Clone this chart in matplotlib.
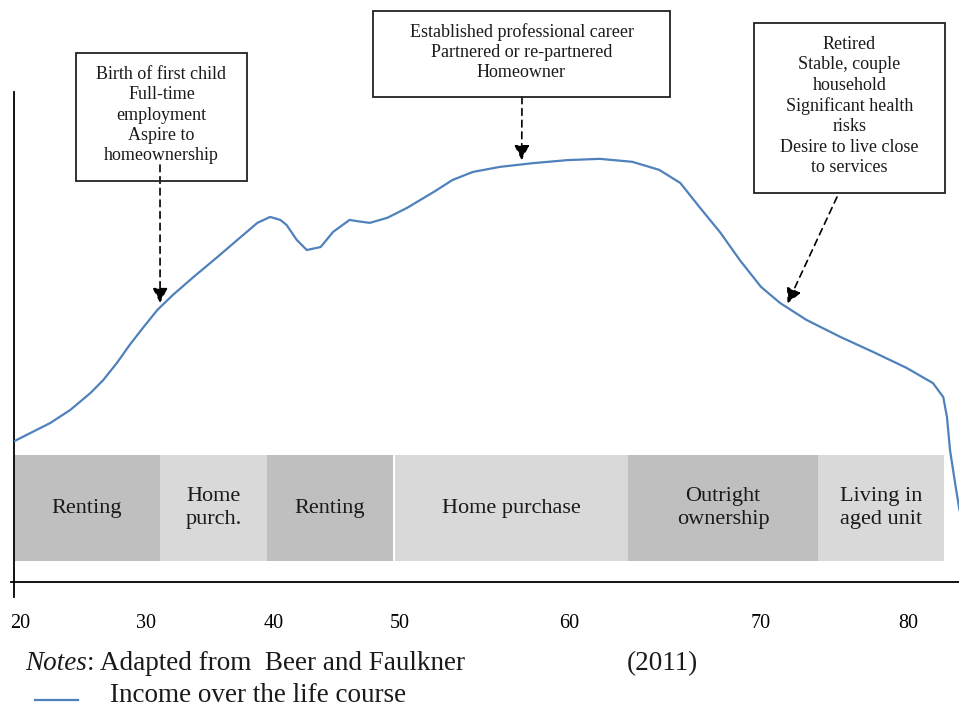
import numpy as np
import matplotlib
matplotlib.use('Agg')
import matplotlib.pyplot as plt
from matplotlib.patches import Rectangle

plt.rcParams['font.family'] = ['Liberation Serif', 'DejaVu Serif']

# income over the life course (index, peak ~ 100)
ages = [19.6, 20.8, 22.4, 24.0, 25.6, 26.6, 27.7, 28.7, 29.8, 30.9, 32.1,
        33.7, 35.6, 37.3, 38.7, 39.7, 40.5, 41.0, 41.8, 42.6, 43.7, 44.7,
        46.0, 46.6, 47.6, 49.0, 50.4, 52.0, 53.1, 54.3, 55.9, 57.9, 59.9,
        61.6, 63.3, 64.7, 65.8, 66.8, 67.9, 68.9, 70.0, 71.3, 73.1, 75.4,
        77.6, 79.9, 81.7, 82.4, 82.65, 82.86, 83.2, 83.5]
income = [33.3, 35.1, 37.5, 40.6, 44.6, 47.6, 51.7, 55.9, 60.1, 64.2, 67.7,
          71.9, 76.7, 81.1, 84.7, 86.1, 85.4, 84.2, 80.7, 78.3, 79.0, 82.6,
          85.4, 85.1, 84.7, 85.9, 88.2, 92.0, 94.8, 96.7, 97.9, 98.8, 99.5,
          99.8, 99.1, 97.2, 94.1, 88.4, 82.3, 75.9, 69.6, 65.8, 61.8, 57.8,
          54.3, 50.5, 46.9, 43.6, 38.9, 31.1, 23.4, 17.0]

# housing phases
phase_labels = ['Renting', 'Home\npurch.', 'Renting', 'Home purchase',
                'Outright\nownership', 'Living in\naged unit']
phase_start = [19.5, 31.1, 39.45, 49.6, 63.07, 73.88]
phase_end = [31.1, 39.45, 49.45, 63.07, 73.88, 82.45]

tick_ages = [20, 30, 40, 50, 60, 70, 80]
tick_labels = ['20', '30', '40', '50', '60', '70', '80']

# life events pointed at the curve
events = ['Birth of first child\nFull-time\nemployment\nAspire to\nhomeownership',
          'Established professional career\nPartnered or re-partnered\nHomeowner',
          'Retired\nStable, couple\nhousehold\nSignificant health\nrisks\nDesire to live close\nto services']
event_ages = [31.1, 57.2, 71.8]

# the age axis in the diagram is not evenly spaced -> piecewise scale
knot_ages = [0] + tick_ages + [100]
knot_px = [20 - 20 * 12.6, 20, 146, 274, 400, 569, 761, 908, 908 + 20 * 14.7]


def fwd(a):
    return np.interp(a, knot_ages, knot_px)


def inv(p):
    return np.interp(p, knot_px, knot_ages)


W, H = 959, 708
PXU = 4.24  # pixels per income unit
fig = plt.figure(figsize=(W / 100, H / 100), dpi=100)


def fx(x, y):
    # pixel (from top-left) -> figure fraction
    return (x / W, 1 - y / H)


ax = fig.add_axes([14 / W, (H - 582) / H, 945 / W, 490 / H])
ax.set_xscale('function', functions=(fwd, inv))
ax.set_xlim(float(inv(14)), float(inv(959)))
ax.set_ylim(0, 490 / PXU)

# phase bars
shades = ['#bfbfbf', '#d9d9d9']
for i, (lab, a0, a1) in enumerate(zip(phase_labels, phase_start, phase_end)):
    ax.bar(a0, 106 / PXU, width=a1 - a0, bottom=21 / PXU, align='edge',
           color=shades[i % 2], edgecolor='none', zorder=1)
    xc = float(inv((fwd(a0) + fwd(a1)) / 2))
    ax.text(xc, 74 / PXU, lab, ha='center', va='center', fontsize=16,
            linespacing=1.3, color='#1a1a1a', zorder=2)

ax.plot(ages, income, color='#4f81bd', lw=1.6, zorder=3)

for s in ['top', 'right']:
    ax.spines[s].set_visible(False)
for s in ['left', 'bottom']:
    ax.spines[s].set_linewidth(1.3)
    ax.spines[s].set_clip_on(False)
ax.spines['left'].set_bounds(-15 / PXU, 490 / PXU)
ax.spines['bottom'].set_bounds(float(inv(11)), float(inv(959)))

ax.set_xticks(tick_ages, tick_labels)
ax.tick_params(axis='x', length=0, pad=23, labelsize=14.5)
ax.set_yticks([])

# event boxes and arrows
boxes = [(76, 53, 247, 181), (373, 11, 670, 97), (754, 23, 945, 193)]
starts = [(160, 165), (522, 97), (837, 197)]
for txt, a, (x0, y0, x1, y1), (sx, sy) in zip(events, event_ages, boxes, starts):
    fig.add_artist(Rectangle(fx(x0, y1), (x1 - x0) / W, (y1 - y0) / H,
                             transform=fig.transFigure, fill=False,
                             edgecolor='#222222', lw=1.3))
    fig.text(*fx((x0 + x1) / 2, (y0 + y1) / 2 - 2), txt, ha='center',
             va='center', fontsize=13, linespacing=1.26, color='#1a1a1a')
    ax.annotate('', xy=(a, np.interp(a, ages, income) + 1),
                xytext=fx(sx, sy), textcoords='figure fraction',
                annotation_clip=False,
                arrowprops=dict(arrowstyle='-|>,head_length=0.9,head_width=0.45',
                                mutation_scale=10, color='black', lw=1.2,
                                linestyle=(0, (4, 3)), shrinkA=0, shrinkB=0))

# notes and legend
t1 = fig.text(*fx(25, 670), 'Notes', style='italic', fontsize=19.5,
              va='baseline', color='#1a1a1a')
ax.annotate(': Adapted from  Beer and Faulkner', xy=(1, 0), xycoords=t1,
            va='bottom', ha='left', fontsize=19.5, color='#1a1a1a',
            annotation_clip=False)
fig.text(*fx(627, 670), '(2011)', fontsize=19.5, va='baseline', color='#1a1a1a')
fig.add_artist(plt.Line2D([35 / W, 78 / W], [1 - 700 / H] * 2,
                          transform=fig.transFigure, color='#4f81bd', lw=1.6))
fig.text(*fx(110, 702), 'Income over the life course', fontsize=19.5,
         va='baseline', color='#1a1a1a')

fig.savefig('out.png', dpi=100)
